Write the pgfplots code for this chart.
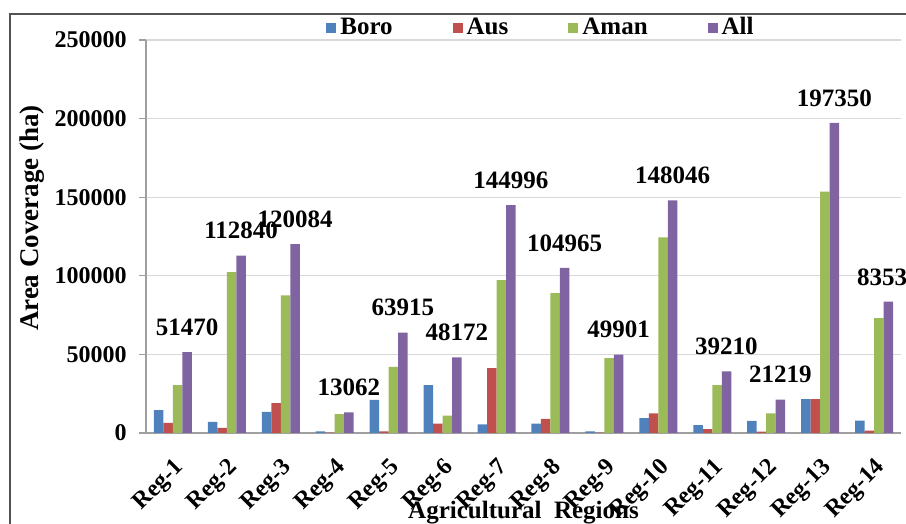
\documentclass[border=0pt]{standalone}
\usepackage{pgfplots}
\pgfplotsset{compat=1.18}
\usepackage{pgfplotstable}
\usepackage{fontspec}
\setmainfont{Liberation Serif}

\definecolor{boro}{HTML}{4F81BD}
\definecolor{aus}{HTML}{C0504D}
\definecolor{aman}{HTML}{9BBB59}
\definecolor{allc}{HTML}{8064A2}

% Rice area coverage by agricultural region (ha)
\pgfplotstableread{
x boro aus aman all
1 14600 6400 30500 51470
2 7000 3200 102400 112840
3 13400 19000 87500 120084
4 1000 300 12000 13062
5 21000 1000 42000 63915
6 30500 6000 11000 48172
7 5500 41300 97300 144996
8 6000 9000 89000 104965
9 1000 200 47700 49901
10 9500 12500 124500 148046
11 5000 2500 30500 39210
12 7700 800 12500 21219
13 21500 21500 153500 197350
14 7800 1500 73000 83537
}\regions

\begin{document}
\begin{tikzpicture}
\fontsize{12}{14}\selectfont\bfseries
% chart frame
\draw[gray!65!black, line width=0.8pt] (-68pt,-90pt) rectangle (430pt,209.5pt);
\begin{axis}[
  at={(0pt,0pt)}, anchor=south west,
  scale only axis,
  width=377.5pt, height=196.5pt,
  ybar=0pt, bar width=4.75pt,
  xmin=0.5, xmax=14.5,
  ymin=0, ymax=250000,
  xtick={1,...,14},
  xticklabels={Reg-1,Reg-2,Reg-3,Reg-4,Reg-5,Reg-6,Reg-7,Reg-8,Reg-9,Reg-10,Reg-11,Reg-12,Reg-13,Reg-14},
  ytick={0,50000,100000,150000,200000,250000},
  scaled y ticks=false,
  /pgf/number format/.cd, fixed, precision=0, 1000 sep={}, assume math mode=true,
  /pgfplots/.cd,
  axis x line*=bottom, axis y line*=left,
  axis line style={draw=gray!75, line width=0.6pt},
  x axis line style={-}, y axis line style={-},
  ymajorgrids, grid style={draw=gray!30, line width=0.6pt},
  major x tick style={draw=none},
  major y tick style={draw=gray!75, line width=0.6pt},
  tick align=outside, major tick length=3.5pt,
  tick label style={font=\fontsize{12}{14}\selectfont\bfseries},
  yticklabel style={anchor=east, inner sep=0pt, xshift=-6pt},
  xticklabel style={xshift=4pt, yshift=-12pt, rotate=45, anchor=east, inner sep=0pt},
  xlabel={Agricultural\ \ Regions},
  xlabel style={at={(axis description cs:0.5,0)}, anchor=base, yshift=-43pt, inner sep=0pt, font=\fontsize{12.5}{14}\selectfont\bfseries},
  ylabel={Area Coverage (ha)},
  ylabel style={at={(axis description cs:-0.143,0.547)}, anchor=base, inner sep=0pt, font=\fontsize{13.5}{15}\selectfont\bfseries},
  legend style={at={(axis description cs:0.5245,1.0305)}, anchor=center,
    draw=none, fill=none, inner sep=0pt,
    font=\fontsize{12.5}{14}\selectfont\bfseries,
    /tikz/every even column/.append style={column sep=28pt}},
  legend columns=4,
  legend image code/.code={\fill[#1] (0pt,-2.5pt) rectangle (5pt,2.5pt);},
  clip=false,
]
\addplot[fill=boro, draw=none] table[x=x, y=boro] {\regions};
\addplot[fill=aus, draw=none] table[x=x, y=aus] {\regions};
\addplot[fill=aman, draw=none] table[x=x, y=aman] {\regions};
\addplot[fill=allc, draw=none,
  point meta=explicit symbolic,
  nodes near coords,
  nodes near coords style={anchor=south, inner sep=0pt, yshift=8pt, text=black,
    font=\fontsize{12.5}{14}\selectfont\bfseries},
] table[x=x, y=all, meta=all] {\regions};
\legend{Boro, Aus, Aman, All}
\end{axis}
\pgfresetboundingbox
\useasboundingbox (-73pt,-45.5pt) rectangle (380pt,216.5pt);
\end{tikzpicture}
\end{document}
